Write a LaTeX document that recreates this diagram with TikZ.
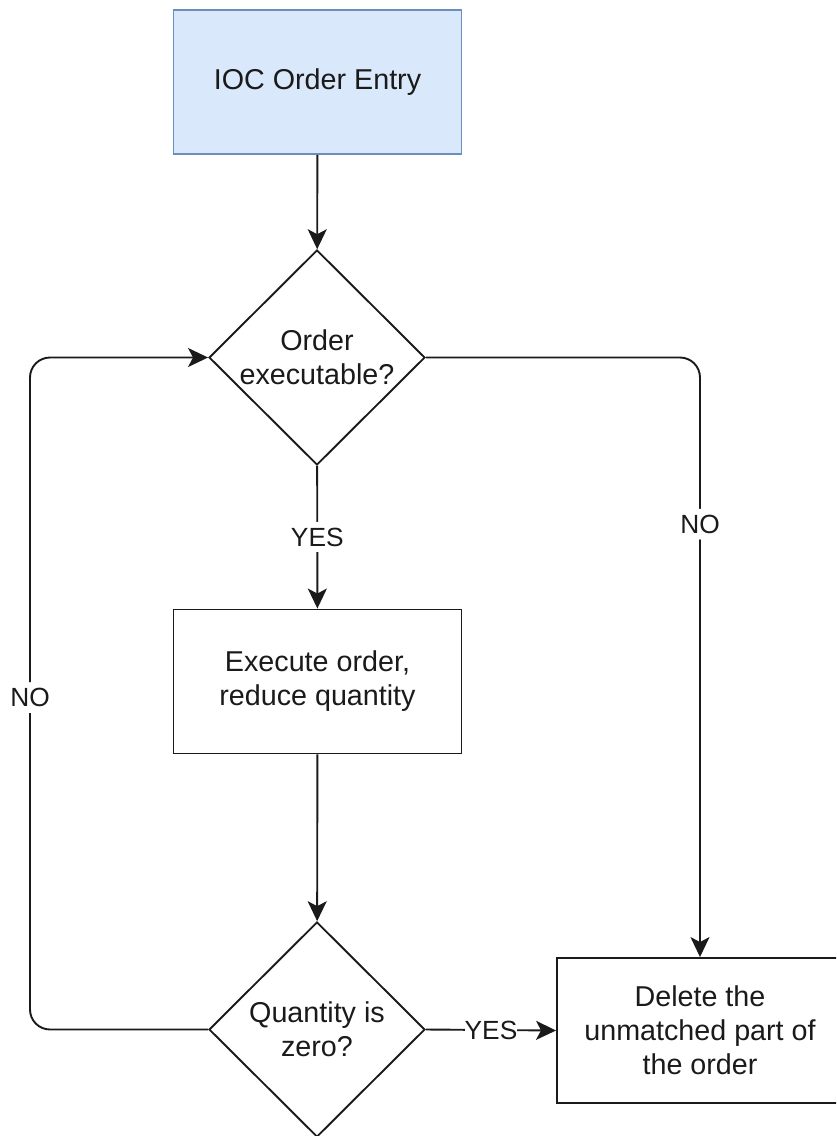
\documentclass[tikz,border=0pt]{standalone}
\usepackage{fontspec}
\setmainfont{Liberation Sans}
\usetikzlibrary{shapes.geometric,arrows.meta}
\definecolor{entryfill}{HTML}{DAE8FC}
\definecolor{entryline}{HTML}{6C8EBF}
\definecolor{inkc}{HTML}{1A1A1A}
\tikzset{
  base/.style={line width=1.9pt, draw=inkc, text=inkc, align=center, inner sep=0pt,
    font=\fontsize{28.7}{34}\selectfont},
  procbox/.style={base, rectangle, minimum width=288pt, minimum height=144pt},
  entrybox/.style={procbox, fill=entryfill, draw=entryline},
  decision/.style={base, diamond, aspect=1, minimum width=216pt, minimum height=215pt},
  flow/.style={line width=1.9pt, draw=inkc, -{Stealth[length=20pt,width=19pt,inset=5pt]}},
  lbl/.style={fill=white, text=inkc, inner xsep=0pt, inner ysep=6pt,
    font=\fontsize{26.3}{30}\selectfont}
}
\begin{document}
\begin{tikzpicture}[x=1pt,y=-1pt]
\useasboundingbox (0,0) rectangle (836,1136);
\clip (0,0) rectangle (836,1136);

% nodes
\node[entrybox] (entry) at (317.5,82) {IOC Order Entry};
\node[decision] (exe) at (317,357.5) {Order\\executable?};
\node[procbox] (exec) at (317.5,681.5) {Execute order,\\reduce quantity};
\node[decision] (zero) at (317,1029.5) {Quantity is\\zero?};
\node[procbox, minimum width=286pt, minimum height=145pt] (del) at (700,1030.5)
  {Delete the\\unmatched part of\\the order};

% loop-back anchor on the left
\coordinate (lc) at (30,1029.5);

% connectors
\draw[flow] (entry) -- (exe);
\draw[flow] (exe) -- node[lbl] {YES} (exec);
\draw[flow] (exec) -- (zero);
\draw[flow, rounded corners=20pt] (exe.east) -| node[lbl, pos=0.639] {NO} (del.north);
\draw[flow, rounded corners=20pt] (zero.west) -- (lc) |- node[lbl, pos=0.247] {NO} (exe.west);
\draw[flow] (zero.east) -- node[lbl] {YES} (del.west);
\end{tikzpicture}
\end{document}
